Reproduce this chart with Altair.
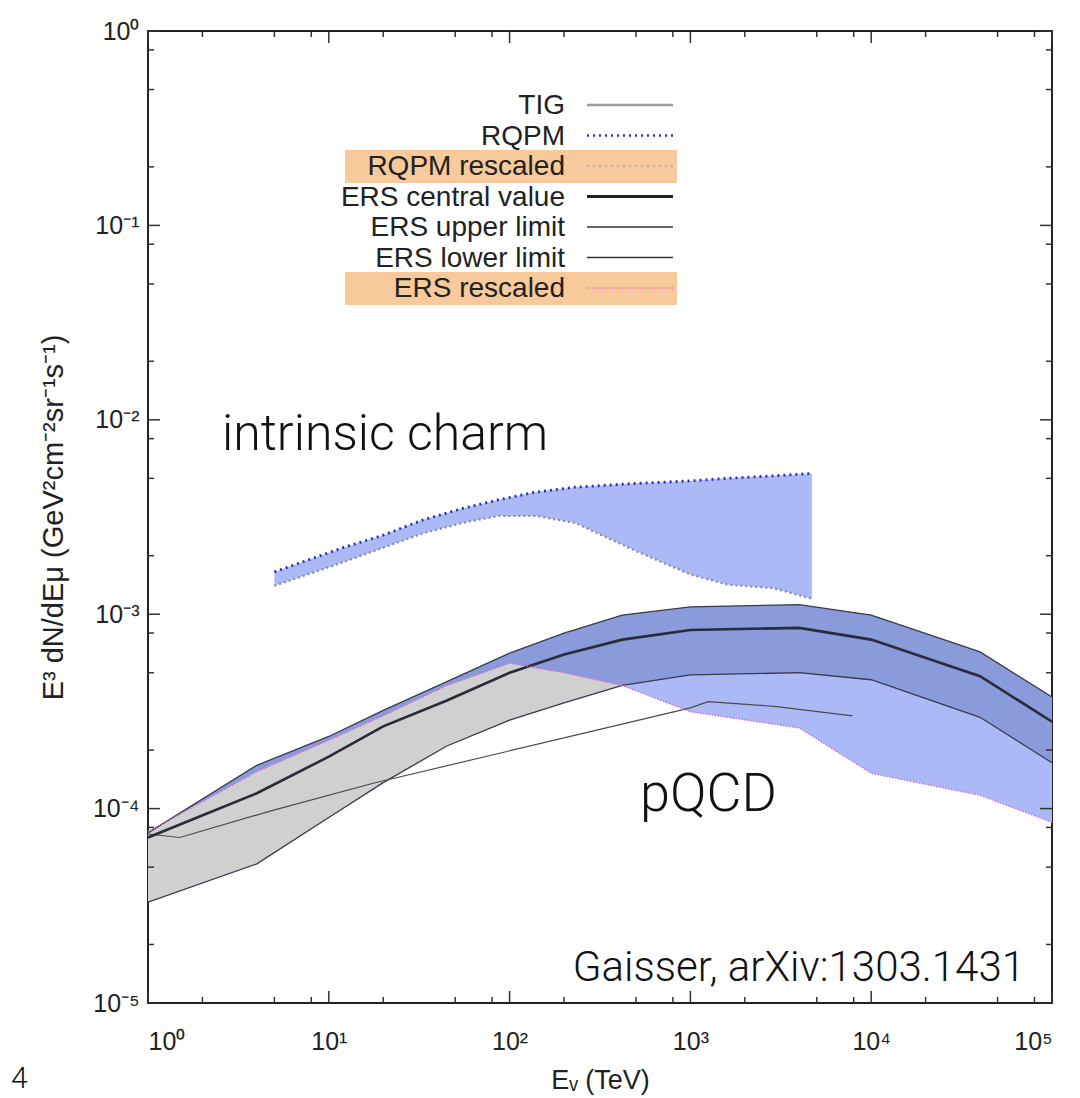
import altair as alt
import pandas as pd

# ---------------- data ----------------
# intrinsic charm (RQPM) band
rqpm_E = [5, 12, 20, 33, 55, 86, 140, 230, 480, 1000, 1600, 2900, 4700]
rqpm = [1.65e-3, 2.2e-3, 2.55e-3, 3.05e-3, 3.5e-3, 3.87e-3, 4.25e-3, 4.5e-3, 4.7e-3, 4.85e-3, 5.0e-3, 5.15e-3, 5.3e-3]
rqpm_rescaled = [1.40e-3, 1.85e-3, 2.2e-3, 2.6e-3, 2.95e-3, 3.2e-3, 3.2e-3, 2.95e-3, 2.15e-3, 1.6e-3, 1.42e-3, 1.36e-3, 1.2e-3]

# pQCD (ERS) band
ers_E = [1, 4, 10, 20, 45, 100, 200, 420, 1000, 4000, 10000, 40000, 100000]
ers_upper = [7.5e-5, 1.67e-4, 2.35e-4, 3.2e-4, 4.5e-4, 6.3e-4, 8.0e-4, 9.9e-4, 1.09e-3, 1.12e-3, 9.9e-4, 6.4e-4, 3.75e-4]
ers_central = [7.1e-5, 1.2e-4, 1.85e-4, 2.65e-4, 3.6e-4, 5.0e-4, 6.2e-4, 7.4e-4, 8.3e-4, 8.5e-4, 7.4e-4, 4.8e-4, 2.8e-4]
ers_lower = [3.3e-5, 5.2e-5, 9.0e-5, 1.36e-4, 2.1e-4, 2.85e-4, 3.5e-4, 4.3e-4, 4.87e-4, 5.0e-4, 4.6e-4, 2.95e-4, 1.72e-4]
ers_rescaled = [7.6e-5, 1.55e-4, 2.25e-4, 3.0e-4, 4.3e-4, 5.6e-4, 5.0e-4, 4.3e-4, 3.15e-4, 2.6e-4, 1.52e-4, 1.17e-4, 8.5e-5]

# TIG curve
tig_E = [1, 1.5, 4.9, 17.6, 526, 1000, 1250, 3000, 7900]
tig = [7.4e-5, 7.1e-5, 9.8e-5, 1.35e-4, 2.86e-4, 3.3e-4, 3.55e-4, 3.35e-4, 3.0e-4]

legend_labels = ["TIG", "RQPM", "RQPM rescaled", "ERS central value",
                 "ERS upper limit", "ERS lower limit", "ERS rescaled"]
x_major = [1, 10, 100, 1000, 10000, 100000]
x_minor = [m * 10 ** k for k in range(0, 5) for m in (2, 5, 8)]
y_major = [1e-5, 1e-4, 1e-3, 1e-2, 1e-1, 1]
y_minor = [m * 10.0 ** k for k in range(-5, 0) for m in (2, 5, 8)]

# ---------------- tables ----------------
rq = pd.DataFrame({"E": rqpm_E, "up": rqpm, "lo": rqpm_rescaled})
ers = pd.DataFrame({"E": ers_E, "up": ers_upper, "c": ers_central,
                    "lo": ers_lower, "r": ers_rescaled})
tg = pd.DataFrame({"E": tig_E, "v": tig})
one = pd.DataFrame({"a": [0]})

W, H = 904, 972
FONT = "Liberation Sans"

xs = alt.Scale(type="log", domain=[1, 1e5], nice=False)
ys = alt.Scale(type="log", domain=[1e-5, 1], nice=False)
sup = "['⁻⁵','⁻⁴','⁻³','⁻²','⁻¹','⁰','¹','²','³','⁴','⁵'][round(log(datum.value)/LN10)+5]"
xaxis = alt.Axis(values=x_major, labelExpr="'10' + " + sup, ticks=False, domain=False,
                 grid=False, labelFontSize=25, labelPadding=26, labelFont=FONT,
                 labelColor="#222", title="Eᵥ (TeV)", titleFont=FONT, titleFontSize=27,
                 titleFontWeight="normal", titleColor="#222", titlePadding=13)
yaxis = alt.Axis(values=y_major, labelExpr="'10' + " + sup, ticks=False, domain=False,
                 grid=False, labelFontSize=25, labelPadding=9, labelFont=FONT,
                 labelColor="#222", title="E³ dN/dEμ (GeV²cm⁻²sr⁻¹s⁻¹)", titleFont=FONT,
                 titleFontSize=29, titleFontWeight="normal", titleColor="#222",
                 titlePadding=24)


def X(f):
    return alt.X(f, type="quantitative", scale=xs, axis=xaxis)


def Y(f):
    return alt.Y(f, type="quantitative", scale=ys, axis=yaxis)


layers = []
# light blue region (ERS rescaled .. ERS upper)
layers.append(alt.Chart(ers).mark_area(color="#abb9f7", opacity=1).encode(
    x=X("E"), y=Y("r"), y2="up"))
# dark ERS band
layers.append(alt.Chart(ers).mark_area(color="#8a9bdb", opacity=1).encode(
    x=X("E"), y=Y("lo"), y2="up"))
# gray band
layers.append(alt.Chart(ers).transform_filter("datum.E <= 420").mark_area(
    color="#d0d0d0", opacity=1).encode(x=X("E"), y=Y("lo"), y2="r"))
# intrinsic charm band
layers.append(alt.Chart(rq).mark_area(color="#abb9f7", opacity=1).encode(
    x=X("E"), y=Y("lo"), y2="up"))


def line(df, f, color, width, dash=None):
    kw = dict(color=color, strokeWidth=width, clip=True)
    if dash:
        kw["strokeDash"] = dash
    return alt.Chart(df).mark_line(**kw).encode(x=X("E"), y=Y(f))

layers += [
    line(ers, "up", "#3a3a4a", 1.3),
    line(ers, "lo", "#3a3a4a", 1.3),
    line(tg, "v", "#4a4a4a", 1.2),
    line(ers, "c", "#2a2a38", 2.6),
    line(ers, "r", "#d86ad0", 1.4, [1.5, 1.5]),
    line(rq, "lo", "#8a8a9a", 2.2, [2, 3]),
    line(rq, "up", "#2c2cb8", 2.8, [2, 4]),
]


# inward ticks on all four sides
def xt(vals, ln):
    d = pd.DataFrame({"v": vals})
    b = alt.Chart(d).mark_rule(color="#333", strokeWidth=1.5).encode(
        x=X("v"), y=alt.value(H), y2=alt.value(H - ln))
    t = alt.Chart(d).mark_rule(color="#333", strokeWidth=1.5).encode(
        x=X("v"), y=alt.value(0), y2=alt.value(ln))
    return [b, t]


def yt(vals, ln):
    d = pd.DataFrame({"v": vals})
    l = alt.Chart(d).mark_rule(color="#333", strokeWidth=1.5).encode(
        y=Y("v"), x=alt.value(0), x2=alt.value(ln))
    r = alt.Chart(d).mark_rule(color="#333", strokeWidth=1.5).encode(
        y=Y("v"), x=alt.value(W), x2=alt.value(W - ln))
    return [l, r]

layers += xt(x_major, 12) + xt(x_minor, 6) + yt(y_major, 12) + yt(y_minor, 6)

# legend
styles = [
    dict(color="#9a9a9a", strokeWidth=2.5),
    dict(color="#3030d0", strokeWidth=2.5, strokeDash=[2, 4]),
    dict(color="#c8a8b8", strokeWidth=2.2, strokeDash=[2, 4]),
    dict(color="#222", strokeWidth=3.2),
    dict(color="#333", strokeWidth=1.6),
    dict(color="#333", strokeWidth=1.6),
    dict(color="#f080b8", strokeWidth=2, strokeDash=[1, 1.5]),
]
for i in (2, 6):
    ry = 74 + i * 30.5
    layers.append(alt.Chart(one).mark_rect(color="#f8c99a").encode(
        x=alt.value(197), x2=alt.value(529), y=alt.value(ry - 16), y2=alt.value(ry + 17)))
for i, lab in enumerate(legend_labels):
    ry = 74 + i * 30.5
    layers.append(alt.Chart(one).mark_text(
        align="right", baseline="middle", font=FONT, fontSize=28, color="#222",
        dy=1).encode(x=alt.value(417), y=alt.value(ry), text=alt.value(lab)))
    layers.append(alt.Chart(one).mark_rule(**styles[i]).encode(
        x=alt.value(439), x2=alt.value(525), y=alt.value(ry)))


def note(txt, x, y, size, align="left"):
    return alt.Chart(one).mark_text(
        align=align, baseline="middle", font="Roboto", fontWeight=300,
        fontSize=size, color="#111").encode(
        x=alt.value(x), y=alt.value(y), text=alt.value(txt))

layers += [
    note("intrinsic charm", 74, 404, 50),
    note("pQCD", 492, 764, 54),
    note("Gaisser, arXiv:1303.1431", 877, 937, 42, "right"),
    alt.Chart(one).mark_text(align="left", baseline="middle", font="Roboto",
                             fontWeight=300, fontSize=30, color="#111").encode(
        x=alt.value(-137), y=alt.value(1048), text=alt.value("4")),
]

chart = alt.layer(*layers).properties(
    width=W, height=H,
    autosize=alt.AutoSizeParams(type="none"),
    padding={"left": 140, "top": 23, "right": 20, "bottom": 95},
    background="white",
).configure_view(stroke="#222", strokeWidth=2)

chart.save("out.html", embed_options={"renderer": "svg", "actions": False})
